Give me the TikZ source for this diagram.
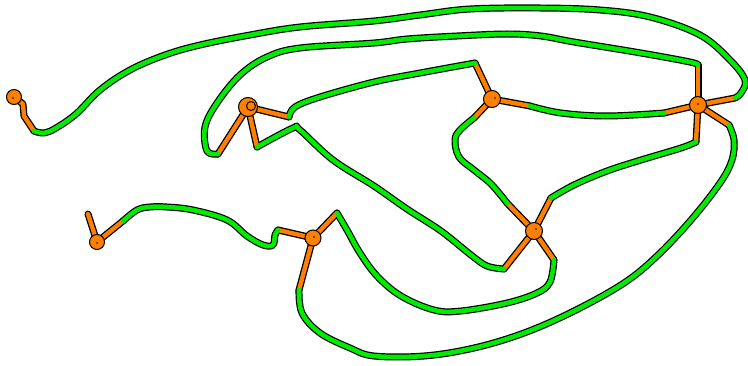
\documentclass[tikz,border=0pt]{standalone}
\usetikzlibrary{backgrounds}
\definecolor{grn}{RGB}{0,235,0}
\definecolor{org}{RGB}{255,128,0}
\newcommand\drawwire[5]{%
  % #1 from node, #2 first green point, #3 inner green points, #4 last green point, #5 to node
  \draw[outl] (#1.center) -- #2;
  \draw[outl] #4 -- (#5.center);
  \draw[outl] plot[smooth,tension=0.6] coordinates {#2 #3 #4};
  \draw[og] (#1.center) -- #2;
  \draw[og] #4 -- (#5.center);
  \draw[gr] plot[smooth,tension=0.6] coordinates {#2 #3 #4};
}
\begin{document}
\begin{tikzpicture}[x=1pt,y=-1pt,
  outl/.style={line width=7pt, black, line cap=round, line join=round},
  gr/.style={line width=4.6pt, grn, line cap=round, line join=round},
  og/.style={line width=4.4pt, org, line cap=round, line join=round},
  vtx/.style={circle, fill=org, draw=black, line width=1pt, minimum size=17pt, inner sep=0pt},
  dot/.style={circle, fill=black, inner sep=0pt, minimum size=1.8pt}]
\useasboundingbox (0,0) rectangle (748,366);
% vertices
\node[vtx, minimum size=15pt] (A) at (14,97) {};
\node[vtx, minimum size=19pt] (B) at (248,107) {};
\node[vtx] (C) at (492,99) {};
\node[vtx] (D) at (698,105) {};
\node[vtx] (E) at (534,231) {};
\node[vtx, minimum size=16pt] (F) at (313,238) {};
\node[vtx, minimum size=15pt] (G) at (97,242) {};
\draw[black, line width=1pt] (251,106) circle[radius=4.5pt];
\node[dot] (dC) at (495,98) {};
\node[dot] (dD) at (698,104) {};
\node[dot] (dE) at (536,229) {};
\node[dot] (dF) at (314,237) {};
\node[dot] (dG) at (97,243) {};
\node[dot] (dA) at (13,98) {};
\coordinate (gs) at (88,214);
\begin{scope}[on background layer]
% A -- D (outer arc), with bent orange stub at A
\coordinate (a1) at (23,104);
\coordinate (a2) at (24,116);
\coordinate (a3) at (34,131);
\draw[outl] (A.center) -- (a1) -- (a2) -- (a3);
\draw[outl] (735,98) -- (D.center);
\draw[outl] plot[smooth,tension=0.6] coordinates {(a3) (44,133) (56,128) (76,114) (100,90) (130,70) (165,55) (200,45) (250,35) (300,27) (374,21) (420,15) (470,9) (540,8) (600,10) (650,17) (700,35) (730,60) (745,80) (741,93) (735,98)};
\draw[og] (A.center) -- (a1) -- (a2) -- (a3);
\draw[og] (735,98) -- (D.center);
\draw[gr] plot[smooth,tension=0.6] coordinates {(a3) (44,133) (56,128) (76,114) (100,90) (130,70) (165,55) (200,45) (250,35) (300,27) (374,21) (420,15) (470,9) (540,8) (600,10) (650,17) (700,35) (730,60) (745,80) (741,93) (735,98)};
% D -- B (inner arc)
\drawwire{D}{(698,65)}{(690,62) (641,53) (574,42) (541,36) (507,34) (457,36) (407,39) (374,43) (300,48) (267,57) (240,75) (217,103) (205,127) (207,151)}{(218,154)}{B}
% B -- C
\drawwire{B}{(289,117)}{(295,107) (320,97) (374,82) (420,73)}{(475,63)}{C}
% C -- D
\drawwire{C}{(530,106)}{(561,113) (607,116)}{(664,113)}{D}
% C -- E
\drawwire{C}{(474,118)}{(460,130) (455,140) (459,157) (474,170) (489,182) (499,193)}{(507,203)}{E}
% D -- E
\drawwire{D}{(696,142)}{(681,148) (641,160) (607,171) (574,185)}{(551,198)}{E}
% E -- B
\drawwire{E}{(504,269)}{(487,266) (471,255) (441,231) (407,209) (374,186) (333,160) (300,130) (293,128)}{(257,147)}{B}
% E -- F
\drawwire{E}{(554,260)}{(550,282) (537,293) (507,303) (461,311) (434,310) (401,296) (377,276) (360,253) (347,230)}{(337,213)}{F}
% F -- G
\drawwire{F}{(278,230)}{(275,235) (273,245) (263,245) (247,236) (227,220) (193,210) (167,207) (150,207) (137,210)}{(123,221)}{G}
% F -- D (bottom arc)
\drawwire{F}{(299,290)}{(302,313) (320,333) (350,348) (374,356) (424,356) (474,348) (524,333) (574,311) (624,283) (657,256) (691,220) (720,183) (732,160) (734,140)}{(729,125)}{D}
% stub at G
\draw[outl] (G.center) -- (gs);
\draw[og] (G.center) -- (gs);
\end{scope}
\end{tikzpicture}
\end{document}
